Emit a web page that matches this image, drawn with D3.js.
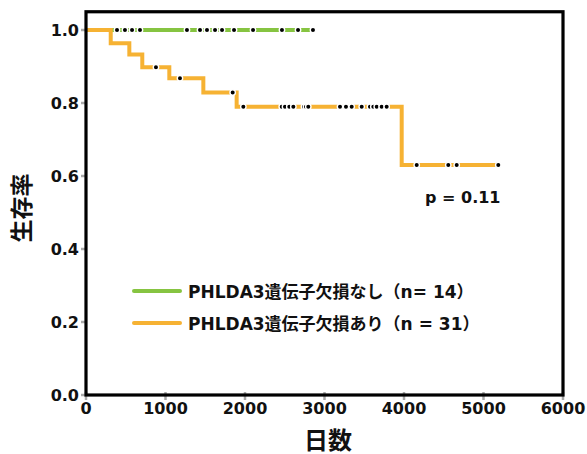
<!DOCTYPE html>
<html>
<head>
    <meta charset="utf-8">
    <script src="https://d3js.org/d3.v7.min.js"></script>
    <style>
        body { margin: 0; background: #fff; }
        svg text { font-family: "DejaVu Sans", "Noto Sans CJK JP", sans-serif; font-weight: bold; fill: #111; }
    </style>
</head>
<body>
<div id="chart"></div>
<script>
    // axis ticks
    var xTicks = [0, 1000, 2000, 3000, 4000, 5000, 6000];
    var yTicks = [0.0, 0.2, 0.4, 0.6, 0.8, 1.0];

    // PHLDA3 deletion absent (n=14): no events, censored times (days)
    var noDelCensor = [390, 490, 579, 679, 1270, 1434, 1522, 1623, 1711, 1862, 2101, 2465, 2667, 2855];
    var noDelTimes = [0];
    var noDelSurv = [1.0];

    // PHLDA3 deletion present (n=31): step times and survival
    var delTimes = [0, 311, 545, 708, 1048, 1476, 1895, 3971];
    var delSurv = [1.0, 0.964, 0.933, 0.898, 0.868, 0.829, 0.790, 0.630];
    var delCensor = [880, 1182, 1845, 1979, 2462, 2503, 2557, 2608, 2742, 2767, 2796, 3195, 3270,
        3342, 3468, 3572, 3614, 3657, 3719, 3782, 4160, 4557, 4663, 5186];

    var legendLabels = ["PHLDA3遺伝子欠損なし（n= 14）", "PHLDA3遺伝子欠損あり（n = 31）"];
    var green = "#86c441", orange = "#f6b233";

    var W = 587, H = 454;
    var svg = d3.select("#chart").append("svg").attr("width", W).attr("height", H);

    var x = d3.scaleLinear().domain([0, 6000]).range([86, 563]);
    var y = d3.scaleLinear().domain([0, 1.05]).range([395, 11.75]);

    // gray tick marks
    svg.append("g").selectAll("line").data(yTicks).enter().append("line")
        .attr("x1", 81).attr("x2", 86)
        .attr("y1", function (d) { return y(d); }).attr("y2", function (d) { return y(d); })
        .attr("stroke", "#aaa").attr("stroke-width", 2.5);
    svg.append("g").selectAll("line").data(xTicks).enter().append("line")
        .attr("x1", function (d) { return x(d); }).attr("x2", function (d) { return x(d); })
        .attr("y1", 392).attr("y2", 400)
        .attr("stroke", "#aaa").attr("stroke-width", 2.5);

    // tick labels
    svg.append("g").selectAll("text").data(yTicks).enter().append("text")
        .attr("x", 79).attr("y", function (d) { return y(d) + 6; })
        .attr("text-anchor", "end").style("font-size", "16px")
        .text(function (d) { return d.toFixed(1); });
    svg.append("g").selectAll("text").data(xTicks).enter().append("text")
        .attr("x", function (d) { return x(d); }).attr("y", 414)
        .attr("text-anchor", "middle").style("font-size", "16px")
        .text(function (d) { return d; });

    // axis titles
    svg.append("text")
        .attr("transform", "translate(30,208) rotate(-90)")
        .attr("text-anchor", "middle").style("font-size", "23px")
        .text("生存率");
    svg.append("text")
        .attr("x", 328).attr("y", 449)
        .attr("text-anchor", "middle").style("font-size", "24px")
        .text("日数");

    // curves
    var line = d3.line()
        .x(function (d) { return x(d[0]); })
        .y(function (d) { return y(d[1]); })
        .curve(d3.curveStepAfter);

    function survAt(times, surv, t) {
        var i = d3.bisectRight(times, t) - 1;
        return surv[Math.max(i, 0)];
    }

    function drawCurve(times, surv, censor, color) {
        var pts = times.map(function (t, i) { return [t, surv[i]]; });
        var last = d3.max(censor);
        pts.push([last, survAt(times, surv, last)]);
        svg.append("path").datum(pts)
            .attr("d", line)
            .attr("fill", "none").attr("stroke", color)
            .attr("stroke-width", 4).attr("stroke-linejoin", "miter");
        return censor.map(function (t) { return [t, survAt(times, surv, t)]; });
    }

    var g1 = drawCurve(noDelTimes, noDelSurv, noDelCensor, green);
    var g2 = drawCurve(delTimes, delSurv, delCensor, orange);

    svg.append("g").selectAll("circle").data(g1.concat(g2)).enter().append("circle")
        .attr("cx", function (d) { return x(d[0]); })
        .attr("cy", function (d) { return y(d[1]); })
        .attr("r", 2.7)
        .attr("fill", "#000").attr("stroke", "#fff").attr("stroke-width", 1.4);

    // frame
    svg.append("rect")
        .attr("x", 86).attr("y", 11.75).attr("width", 477).attr("height", 383.25)
        .attr("fill", "none").attr("stroke", "#000").attr("stroke-width", 3.2);

    // p value
    svg.append("text").attr("x", 425).attr("y", 203)
        .style("font-size", "16px").text("p = 0.11");

    // legend
    var legend = svg.append("g").selectAll("g").data(legendLabels).enter().append("g")
        .attr("transform", function (d, i) { return "translate(0," + (291 + i * 32) + ")"; });
    legend.append("line")
        .attr("x1", 134).attr("x2", 180).attr("y1", 0).attr("y2", 0)
        .attr("stroke", function (d, i) { return i === 0 ? green : orange; })
        .attr("stroke-width", 4).attr("stroke-linecap", "round");
    legend.append("text")
        .attr("x", 188).attr("y", 7)
        .style("font-size", "17px")
        .text(function (d) { return d; });
</script>
</body>
</html>
